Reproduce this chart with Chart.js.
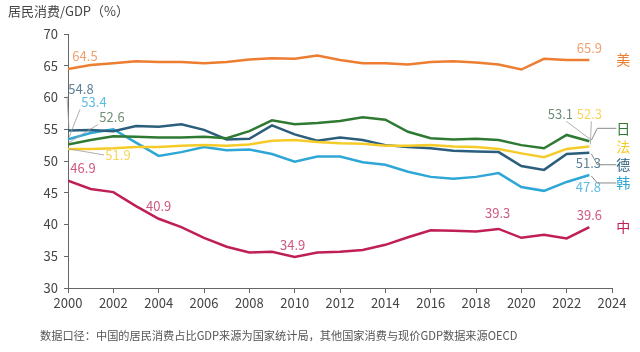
<!DOCTYPE html>
<html>
<head>
<meta charset="utf-8">
<script src="https://cdn.jsdelivr.net/npm/chart.js@4"></script>
<style>
  html, body { margin:0; padding:0; background:#fff; }
  #wrap { width:640px; height:352px; position:relative; }
</style>
</head>
<body>
<div id="wrap"><canvas id="c" width="640" height="352"></canvas></div>
<script>
'use strict';

// ── Data ──
const years = [2000,2001,2002,2003,2004,2005,2006,2007,2008,2009,2010,2011,
               2012,2013,2014,2015,2016,2017,2018,2019,2020,2021,2022,2023];

const usVals    = [64.5,65.1,65.4,65.7,65.6,65.6,65.4,65.6,66.0,66.2,66.1,66.6,
                   65.9,65.4,65.4,65.2,65.6,65.7,65.5,65.2,64.4,66.1,65.9,65.9];
const jpVals    = [52.6,53.3,53.9,53.8,53.7,53.7,53.8,53.6,54.7,56.4,55.8,56.0,
                   56.3,56.9,56.5,54.6,53.6,53.4,53.5,53.3,52.5,52.0,54.1,53.1];
const frVals    = [51.9,51.9,52.0,52.2,52.2,52.4,52.5,52.4,52.6,53.2,53.3,53.0,
                   52.8,52.7,52.4,52.4,52.5,52.3,52.2,51.9,51.2,50.6,51.9,52.3];
const deVals    = [54.8,54.9,54.7,55.5,55.4,55.8,54.9,53.4,53.5,55.6,54.2,53.2,
                   53.7,53.3,52.5,52.2,52.0,51.6,51.5,51.4,49.2,48.6,51.1,51.3];
const krVals    = [53.4,54.4,55.0,52.9,50.8,51.4,52.2,51.7,51.8,51.1,49.9,50.7,
                   50.7,49.8,49.4,48.3,47.5,47.2,47.5,48.1,45.9,45.3,46.7,47.8];
const cnVals    = [46.9,45.6,45.1,42.9,40.9,39.6,37.9,36.5,35.6,35.7,34.9,35.6,
                   35.7,36.0,36.8,38.0,39.1,39.0,38.9,39.3,37.9,38.4,37.8,39.6];

const seriesNames = ['美','日','法','德','韩','中'];
const xTicks = [2000,2002,2004,2006,2008,2010,2012,2014,2016,2018,2020,2022,2024];
const yTicks = [30,35,40,45,50,55,60,65,70];

const COLORS = ['#ED7D31','#2F7A33','#F5CB2A','#2A5E7C','#2EA7D6','#C01F54'];
const LABEL_COLORS = ['#F0A070','#6E8F76','#F7D55E','#5C8299','#5DBCE3','#CF5882'];

// value labels: [series, year, text, dx, dy, leaderFromLabel]
const valueLabels = [
  [0, 2000, '64.5', 17, -13, false],
  [0, 2023, '65.9',  0, -12, false],
  [3, 2000, '54.8', 13, -41, true],
  [4, 2000, '53.4', 26, -37, true],
  [1, 2000, '52.6', 44, -27, true],
  [2, 2000, '51.9', 50,   6, true],
  [5, 2000, '46.9', 15, -13, false],
  [5, 2004, '40.9',  0, -13, false],
  [5, 2010, '34.9', -2, -12, false],
  [5, 2019, '39.3', -1, -16, false],
  [5, 2023, '39.6',  0, -12, false],
  [1, 2023, '53.1',-29, -27, true],
  [2, 2023, '52.3',  0, -32, true],
  [3, 2023, '51.3', -1,  10, false],
  [4, 2023, '47.8', -1,  12, false],
];

// right side names: [series, y offset of name from end point, elbow leader]
const endNames = [
  [0,   0, false],
  [1, -13, true],
  [2,   0, false],
  [3,  12, true],
  [4,   8, true],
  [5,   0, false],
];

const allVals = [usVals, jpVals, frVals, deVals, krVals, cnVals];

const datasets = allVals.map((vals, i) => ({
  label: seriesNames[i],
  data: years.map((y, k) => ({ x: y, y: vals[k] })),
  borderColor: COLORS[i],
  backgroundColor: COLORS[i],
  borderWidth: 2.5,
  pointRadius: 0,
  tension: 0,
}));

const FONT = '"Noto Sans CJK SC", "Noto Sans", sans-serif';

const annoPlugin = {
  id: 'anno',
  afterDatasetsDraw(chart) {
    const { ctx, scales: { x, y } } = chart;
    ctx.save();
    ctx.textAlign = 'center';
    ctx.textBaseline = 'middle';
    ctx.font = '13px ' + FONT;

    valueLabels.forEach(([si, yr, txt, dx, dy, leader]) => {
      const k = years.indexOf(yr);
      const px = x.getPixelForValue(yr);
      const py = y.getPixelForValue(allVals[si][k]);
      const lx = px + dx, ly = py + dy;
      if (leader) {
        ctx.strokeStyle = '#9a9a9a';
        ctx.lineWidth = 0.8;
        ctx.beginPath();
        const ex = dx > 10 ? lx - 14 : (dx < -10 ? lx + 6 : lx + 2);
        const ey = dy < 0 ? ly + 7 : ly;
        ctx.moveTo(px + 1, py - (dy < 0 ? 2 : 0));
        ctx.lineTo(ex, ey);
        ctx.stroke();
      }
      ctx.fillStyle = LABEL_COLORS[si];
      ctx.fillText(txt, lx, ly);
    });

    ctx.font = '14px ' + FONT;
    const lastYr = years[years.length - 1];
    endNames.forEach(([si, oy, elbow]) => {
      const px = x.getPixelForValue(lastYr);
      const py = y.getPixelForValue(allVals[si][allVals[si].length - 1]);
      const nx = px + 34, ny = py + oy;
      if (elbow) {
        ctx.strokeStyle = '#8a8a8a';
        ctx.lineWidth = 1;
        ctx.beginPath();
        ctx.moveTo(px + 2, py + (oy < 0 ? -1 : 1));
        ctx.lineTo(px + 8, ny);
        ctx.lineTo(nx - 7, ny);
        ctx.stroke();
      }
      ctx.fillStyle = COLORS[si];
      ctx.fillText(seriesNames[si], nx, ny);
    });

    // title and source note
    ctx.textAlign = 'left';
    ctx.fillStyle = '#444';
    ctx.font = '13px ' + FONT;
    ctx.fillText('居民消费/GDP（%）', 8, 11);
    ctx.font = '11.2px ' + FONT;
    ctx.fillStyle = '#555';
    ctx.fillText('数据口径：中国的居民消费占比GDP来源为国家统计局，其他国家消费与现价GDP数据来源OECD', 40, 336);
    ctx.restore();
  }
};

new Chart(document.getElementById('c').getContext('2d'), {
  type: 'line',
  data: { datasets },
  plugins: [annoPlugin],
  options: {
    responsive: false,
    animation: false,
    layout: { padding: { left: 0, right: 28, top: 34, bottom: 34 } },
    plugins: { legend: { display: false }, tooltip: { enabled: false } },
    scales: {
      x: {
        type: 'linear',
        min: xTicks[0],
        max: xTicks[xTicks.length - 1],
        afterBuildTicks: s => { s.ticks = xTicks.map(v => ({ value: v })); },
        afterFit: s => { s.height = 30; },
        ticks: { color: '#444', font: { size: 13, family: FONT }, padding: 2,
                 maxRotation: 0, callback: v => String(v) },
        grid: { display: true, drawOnChartArea: false, drawTicks: true, tickLength: 5, color: '#666' },
        border: { display: true, color: '#666', width: 1 },
      },
      y: {
        min: yTicks[0],
        max: yTicks[yTicks.length - 1],
        afterBuildTicks: s => { s.ticks = yTicks.map(v => ({ value: v })); },
        afterFit: s => { s.width = 68; },
        ticks: { color: '#444', font: { size: 13, family: FONT }, padding: 6 },
        grid: { display: true, drawOnChartArea: false, drawTicks: true, tickLength: 4, color: '#666' },
        border: { display: true, color: '#666', width: 1 },
      }
    }
  }
});
</script>
</body>
</html>
